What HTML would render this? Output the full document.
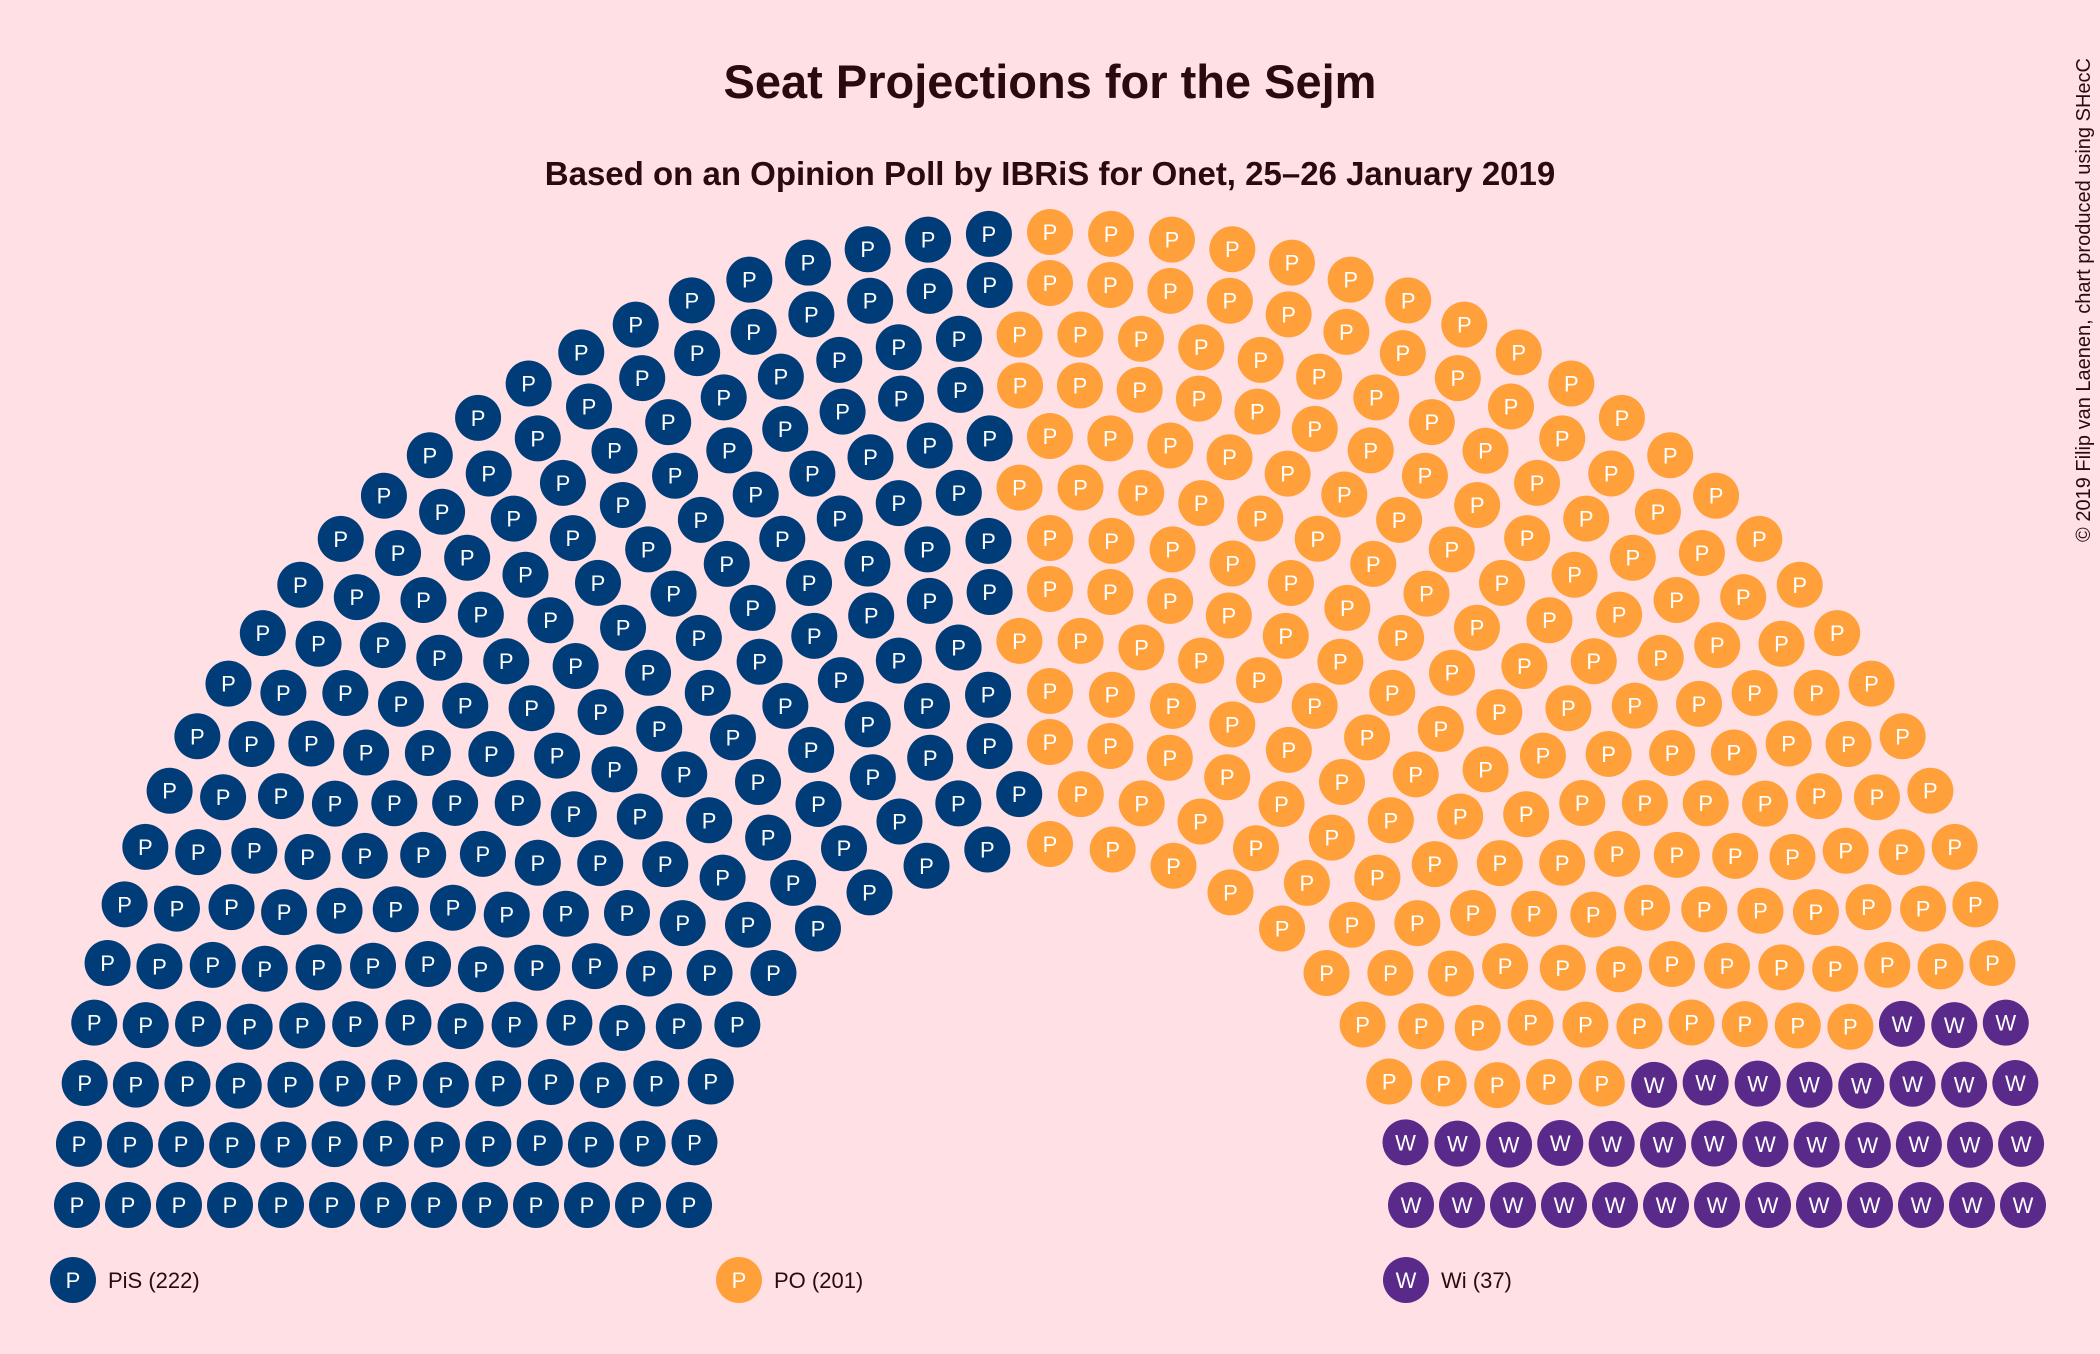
<!DOCTYPE html>
<html><head><meta charset="utf-8"><style>
html,body{margin:0;padding:0;background:#FFE0E5;}
svg{display:block;font-family:"Liberation Sans",sans-serif;}
</style></head><body>
<svg id="chart" width="2100" height="1354" viewBox="0 0 2100 1354">
<rect width="2100" height="1354" fill="#FFE0E5"/>
<text x="1050" y="98" text-anchor="middle" font-size="47" font-weight="bold" fill="#2A0A0E">Seat Projections for the Sejm</text>
<text x="1050" y="185" text-anchor="middle" font-size="33" font-weight="bold" fill="#2A0A0E">Based on an Opinion Poll by IBRiS for Onet, 25–26 January 2019</text>
<text transform="translate(2090,300) rotate(-90)" text-anchor="middle" font-size="20" fill="#2A0A0E">© 2019 Filip van Laenen, chart produced using SHecC</text>
<g id="seats"></g>
<g id="legend"></g>
</svg>
<script>
const parties = ["PiS","PO","Wi"];
const seats = [222,201,37];
const letters = ["P","P","W"];
const colors = ["#003C78","#FFA03A","#5A2A8A"];
const NS="http://www.w3.org/2000/svg";
const cx=1050, cy=1205, rOuter=973, rInner=361, nRows=13, dotR=23;
const total=seats.reduce((a,b)=>a+b,0);
const radii=[];for(let i=0;i<nRows;i++)radii.push(rInner+i*(rOuter-rInner)/(nRows-1));
const sumR=radii.reduce((a,b)=>a+b,0);
let counts=radii.map(r=>Math.round(total*r/sumR));
let diff=total-counts.reduce((a,b)=>a+b,0);
let k=nRows-1;while(diff!==0){counts[k]+=Math.sign(diff);diff-=Math.sign(diff);k=(k-1+nRows)%nRows;}
const pos=[];
radii.forEach((r,i)=>{const n=counts[i];for(let j=0;j<n;j++){const a=Math.PI*(1-j/(n-1));pos.push({a,r});}});
pos.sort((p,q)=>q.a-p.a||p.r-q.r);
const g=document.getElementById('seats');
let idx=0;
seats.forEach((n,p)=>{for(let s=0;s<n;s++){const q=pos[idx++];
 const x=cx+q.r*Math.cos(q.a), y=cy-q.r*Math.sin(q.a);
 const c=document.createElementNS(NS,'circle');
 
 
 c.setAttribute('cx',x);c.setAttribute('cy',y);c.setAttribute('r',dotR);c.setAttribute('fill',colors[p]);g.appendChild(c);
 const t=document.createElementNS(NS,'text');
 
 
 t.setAttribute('x',x);t.setAttribute('y',y+8);t.setAttribute('text-anchor','middle');t.setAttribute('font-size','22');t.setAttribute('fill','#fff');t.textContent=letters[p];g.appendChild(t);
}});
const lg=document.getElementById('legend');
const lx=[73,739,1406];
seats.forEach((n,p)=>{
 const c=document.createElementNS(NS,'circle');
 
 
 c.setAttribute('cx',lx[p]);c.setAttribute('cy',1280);c.setAttribute('r',dotR);c.setAttribute('fill',colors[p]);lg.appendChild(c);
 const t=document.createElementNS(NS,'text');
 
 
 t.setAttribute('x',lx[p]);t.setAttribute('y',1288);t.setAttribute('text-anchor','middle');t.setAttribute('font-size','22');t.setAttribute('fill','#fff');t.textContent=letters[p];lg.appendChild(t);
 const l=document.createElementNS(NS,'text');
 
 
 l.setAttribute('x',lx[p]+35);l.setAttribute('y',1288);l.setAttribute('font-size','22');l.setAttribute('fill','#2A0A0E');l.textContent=parties[p]+' ('+n+')';lg.appendChild(l);
});
</script>
</body></html>
